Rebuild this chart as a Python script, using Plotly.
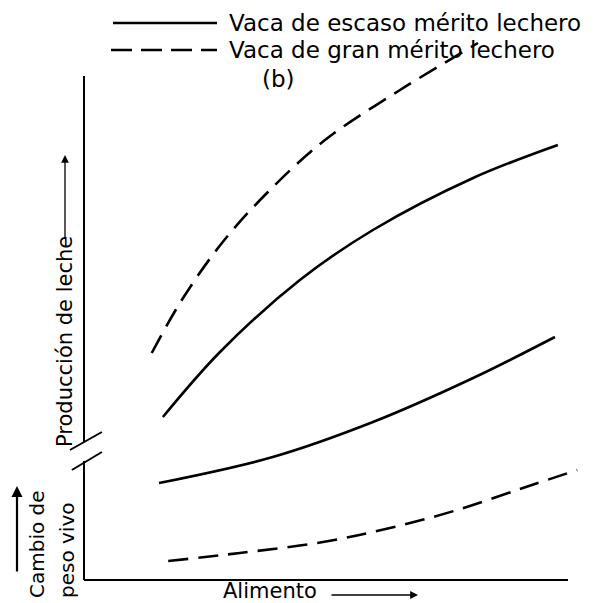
import plotly.graph_objects as go

# ---- data (abstract units: Alimento on x, response on y) ----
alim_prod_gran = [1.40, 2.02, 2.85, 3.80, 4.98, 6.53, 8.14]
prod_gran = [4.54, 5.60, 6.74, 7.76, 8.80, 9.80, 10.74]

alim_prod_escaso = [1.63, 2.81, 4.46, 5.97, 8.04, 9.79]
prod_escaso = [3.26, 4.56, 6.00, 7.00, 8.04, 8.70]

alim_peso_escaso = [1.55, 3.90, 5.97, 8.04, 9.73]
peso_escaso = [1.94, 2.46, 3.16, 4.04, 4.86]

alim_peso_gran = [1.74, 3.22, 4.94, 6.32, 7.71, 9.07, 10.19]
peso_gran = [0.38, 0.54, 0.76, 1.04, 1.40, 1.84, 2.20]

legend_labels = ["Vaca de escaso mérito lechero", "Vaca de gran mérito lechero"]
panel_label = "(b)"
y_label_top = "Producción de leche"
y_label_bottom = ["Cambio de", "peso vivo"]
x_label = "Alimento"

OFF = 8  # page body margin
W, H = 597 - OFF, 603 - OFF
FONT = "DejaVu Sans"
DASH = "20px,10px"
LW = 2.6


def px(x):
    return (x - OFF) / W


def py(y):
    return 1 - (y - OFF) / H


fig = go.Figure()
solid = dict(color="black", width=LW)
dashed = dict(color="black", width=LW, dash=DASH)
fig.add_trace(go.Scatter(x=alim_prod_gran, y=prod_gran, mode="lines",
                         line=dict(**dashed, shape="spline", smoothing=1), showlegend=False))
fig.add_trace(go.Scatter(x=alim_prod_escaso, y=prod_escaso, mode="lines",
                         line=dict(**solid, shape="spline", smoothing=1), showlegend=False))
fig.add_trace(go.Scatter(x=alim_peso_escaso, y=peso_escaso, mode="lines",
                         line=dict(**solid, shape="spline", smoothing=1), showlegend=False))
fig.add_trace(go.Scatter(x=alim_peso_gran, y=peso_gran, mode="lines",
                         line=dict(**dashed, shape="spline", smoothing=1), showlegend=False))

ax_line = dict(color="black", width=2)
shapes = [
    dict(type="line", xref="x", yref="y", x0=0, x1=0, y0=2.76, y1=10.08, line=ax_line),
    dict(type="line", xref="x", yref="y", x0=0, x1=0, y0=0, y1=2.38, line=ax_line),
    dict(type="line", xref="x", yref="y", x0=0, x1=10.0, y0=0, y1=0, line=ax_line),
    dict(type="line", xref="x", yref="y", x0=-0.29, x1=0.37, y0=2.60, y1=2.96, line=ax_line),
    dict(type="line", xref="x", yref="y", x0=-0.25, x1=0.37, y0=2.20, y1=2.56, line=ax_line),
    dict(type="line", xref="paper", yref="paper", x0=px(113), x1=px(217), y0=py(23), y1=py(23),
         line=dict(color="black", width=2.4)),
    dict(type="line", xref="paper", yref="paper", x0=px(111), x1=px(217), y0=py(50), y1=py(50),
         line=dict(color="black", width=2.4, dash="21px,9px")),
]

txt = dict(family=FONT, size=23, color="black")
lab = dict(family=FONT, size=20, color="black")
annotations = [
    dict(xref="paper", yref="paper", x=px(227), y=py(23), text=legend_labels[0], showarrow=False,
         xanchor="left", yanchor="middle", font=txt),
    dict(xref="paper", yref="paper", x=px(227), y=py(50), text=legend_labels[1], showarrow=False,
         xanchor="left", yanchor="middle", font=txt),
    dict(xref="paper", yref="paper", x=px(278), y=py(79), text=panel_label, showarrow=False,
         xanchor="center", yanchor="middle", font=txt),
    dict(xref="paper", yref="paper", x=px(65), y=py(342), text=y_label_top, showarrow=False,
         textangle=-90, xanchor="center", yanchor="middle", font=dict(family=FONT, size=21, color="black")),
    dict(xref="paper", yref="paper", x=px(37), y=py(544), text=y_label_bottom[0], showarrow=False,
         textangle=-90, xanchor="center", yanchor="middle", font=lab),
    dict(xref="paper", yref="paper", x=px(67), y=py(551), text=y_label_bottom[1], showarrow=False,
         textangle=-90, xanchor="center", yanchor="middle", font=lab),
    dict(xref="paper", yref="paper", x=px(270), y=py(605), text=x_label, showarrow=False,
         xanchor="center", yanchor="bottom", font=dict(family=FONT, size=21, color="black")),
    dict(xref="paper", yref="paper", x=px(65), y=py(155), ax=0, ay=85, axref="pixel", ayref="pixel",
         text="", showarrow=True, arrowhead=2, arrowsize=1.2, arrowwidth=1.3, arrowcolor="black"),
    dict(xref="paper", yref="paper", x=px(418), y=py(595), ax=-88, ay=0, axref="pixel", ayref="pixel",
         text="", showarrow=True, arrowhead=2, arrowsize=1.2, arrowwidth=1.3, arrowcolor="black"),
    dict(xref="paper", yref="paper", x=px(17), y=py(486), ax=0, ay=87, axref="pixel", ayref="pixel",
         text="", showarrow=True, arrowhead=2, arrowsize=1.0, arrowwidth=2.2, arrowcolor="black"),
]

fig.update_layout(
    width=W, height=H,
    margin=dict(l=0, r=0, t=0, b=0),
    paper_bgcolor="white", plot_bgcolor="white",
    xaxis=dict(range=[(OFF - 84) / 48.4, (597 - 84) / 48.4], visible=False, fixedrange=True),
    yaxis=dict(range=[(580 - 603) / 50, (580 - OFF) / 50], visible=False, fixedrange=True),
    shapes=shapes, annotations=annotations,
    showlegend=False,
)

fig.write_html("out.html", config={"displayModeBar": False})
